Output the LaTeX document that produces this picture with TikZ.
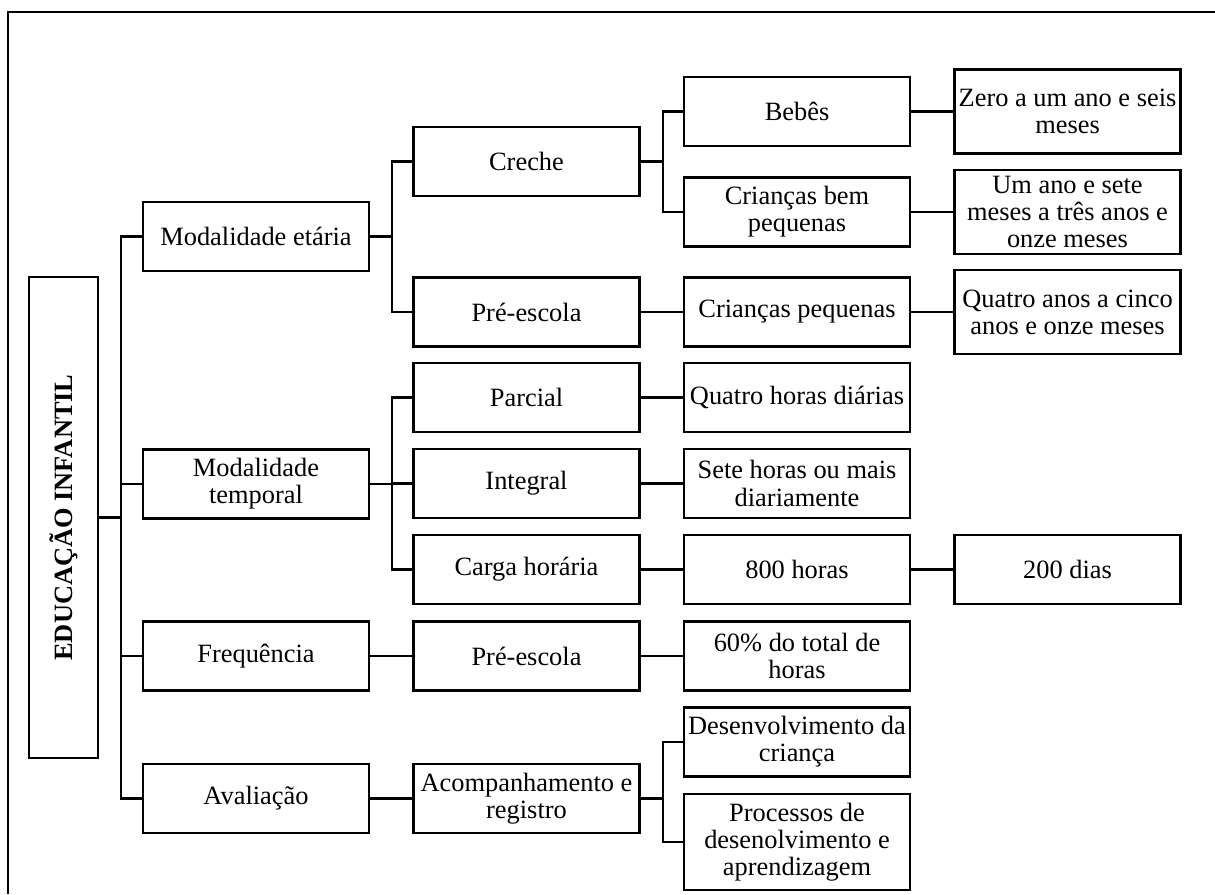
\documentclass[tikz,border=0pt]{standalone}
\usepackage{fontspec}
\setmainfont{Liberation Serif}
\usepackage{graphicx}
\usepackage{tikz}
\usetikzlibrary{positioning}

\begin{document}
\begin{tikzpicture}[x=0.5pt, y=-0.5pt, line width=1.2pt, font=\fontsize{13.2}{13.6}\selectfont]
			\tikzstyle{cellc}=[draw=black, minimum width=113pt, minimum height=34.5pt, inner sep=1pt, align=center]
			\tikzstyle{cellt}=[cellc, minimum height=42pt]
			\tikzstyle{cellr}=[draw=black, minimum width=34.5pt, minimum height=240.5pt, inner sep=1pt, font=\fontsize{13.2}{13.6}\selectfont\bfseries]
			\useasboundingbox (0,0) rectangle (1215,894);
			\draw (1215,12) -- (8,12) -- (8,894);
			%%
			\node (root) at (63.5,517.5) [cellr] {\rotatebox{90}{EDUCAÇÃO INFANTIL}};
			
			\node (me) at (256,236.5) [cellc] {Modalidade etária};
			\node (mt) at (256,484) [cellc] {Modalidade\\temporal};
			\node (fr) at (256,656) [cellc] {Frequência};
			\node (av) at (256,798.5) [cellc] {Avaliação};
			
			\node (cr) at (526.5,161.5) [cellc] {Creche};
			\node (pe) at (526.5,312) [cellc] {Pré-escola};
			\node (pa) at (526.5,397.5) [cellc] {Parcial};
			\node (in) at (526.5,483.5) [cellc] {Integral};
			\node (ch) at (526.5,569.5) [cellc] {Carga horária};
			\node (pf) at (526.5,656) [cellc] {Pré-escola};
			\node (ac) at (526.5,798.5) [cellc] {Acompanhamento e\\registro};
			
			\node (be) at (797,111.5) [cellc] {Bebês};
			\node (cb) at (797,212) [cellc] {Crianças bem\\pequenas};
			\node (cp) at (797,312) [cellc] {Crianças pequenas};
			\node (qh) at (797,397.5) [cellc] {Quatro horas diárias};
			\node (sh) at (797,483.5) [cellc] {Sete horas ou mais\\diariamente};
			\node (oh) at (797,569.5) [cellc] {800 horas};
			\node (ps) at (797,656) [cellc] {60\% do total de\\horas};
			\node (dc) at (797,742) [cellc] {Desenvolvimento da\\criança};
			\node (pd) at (797,842) [cellc, minimum height=48pt] {Processos de\\desenolvimento e\\aprendizagem};
			
			\node (ze) at (1067.5,111.5) [cellt] {Zero a um ano e seis\\meses};
			\node (um) at (1067.5,212) [cellt] {Um ano e sete\\meses a três anos e\\onze meses};
			\node (qa) at (1067.5,312) [cellt] {Quatro anos a cinco\\anos e onze meses};
			\node (dd) at (1067.5,569.5) [cellc] {200 dias};
			
			\draw (root.east) -- ++(22,0) |- (me.west);
			\draw (root.east) -- ++(22,0) |- (mt.west);
			\draw (root.east) -- ++(22,0) |- (fr.west);
			\draw (root.east) -- ++(22,0) |- (av.west);
			
			\draw (me.east) -- ++(22,0) |- (cr.west);
			\draw (me.east) -- ++(22,0) |- (pe.west);
			\draw (mt.east) -- ++(22,0) |- (pa.west);
			\draw (mt.east) -- ++(22,0) |- (in.west);
			\draw (mt.east) -- ++(22,0) |- (ch.west);
			\draw (fr.east) -- (pf.west);
			\draw (av.east) -- (ac.west);
			
			\draw (cr.east) -- ++(22,0) |- (be.west);
			\draw (cr.east) -- ++(22,0) |- (cb.west);
			\draw (pe.east) -- (cp.west);
			\draw (pa.east) -- (qh.west);
			\draw (in.east) -- (sh.west);
			\draw (ch.east) -- (oh.west);
			\draw (pf.east) -- (ps.west);
			\draw (ac.east) -- ++(22,0) |- (dc.west);
			\draw (ac.east) -- ++(22,0) |- (pd.west);
			
			\draw (be.east) -- (ze.west);
			\draw (cb.east) -- (um.west);
			\draw (cp.east) -- (qa.west);
			\draw (oh.east) -- (dd.west);
\end{tikzpicture}
\end{document}
